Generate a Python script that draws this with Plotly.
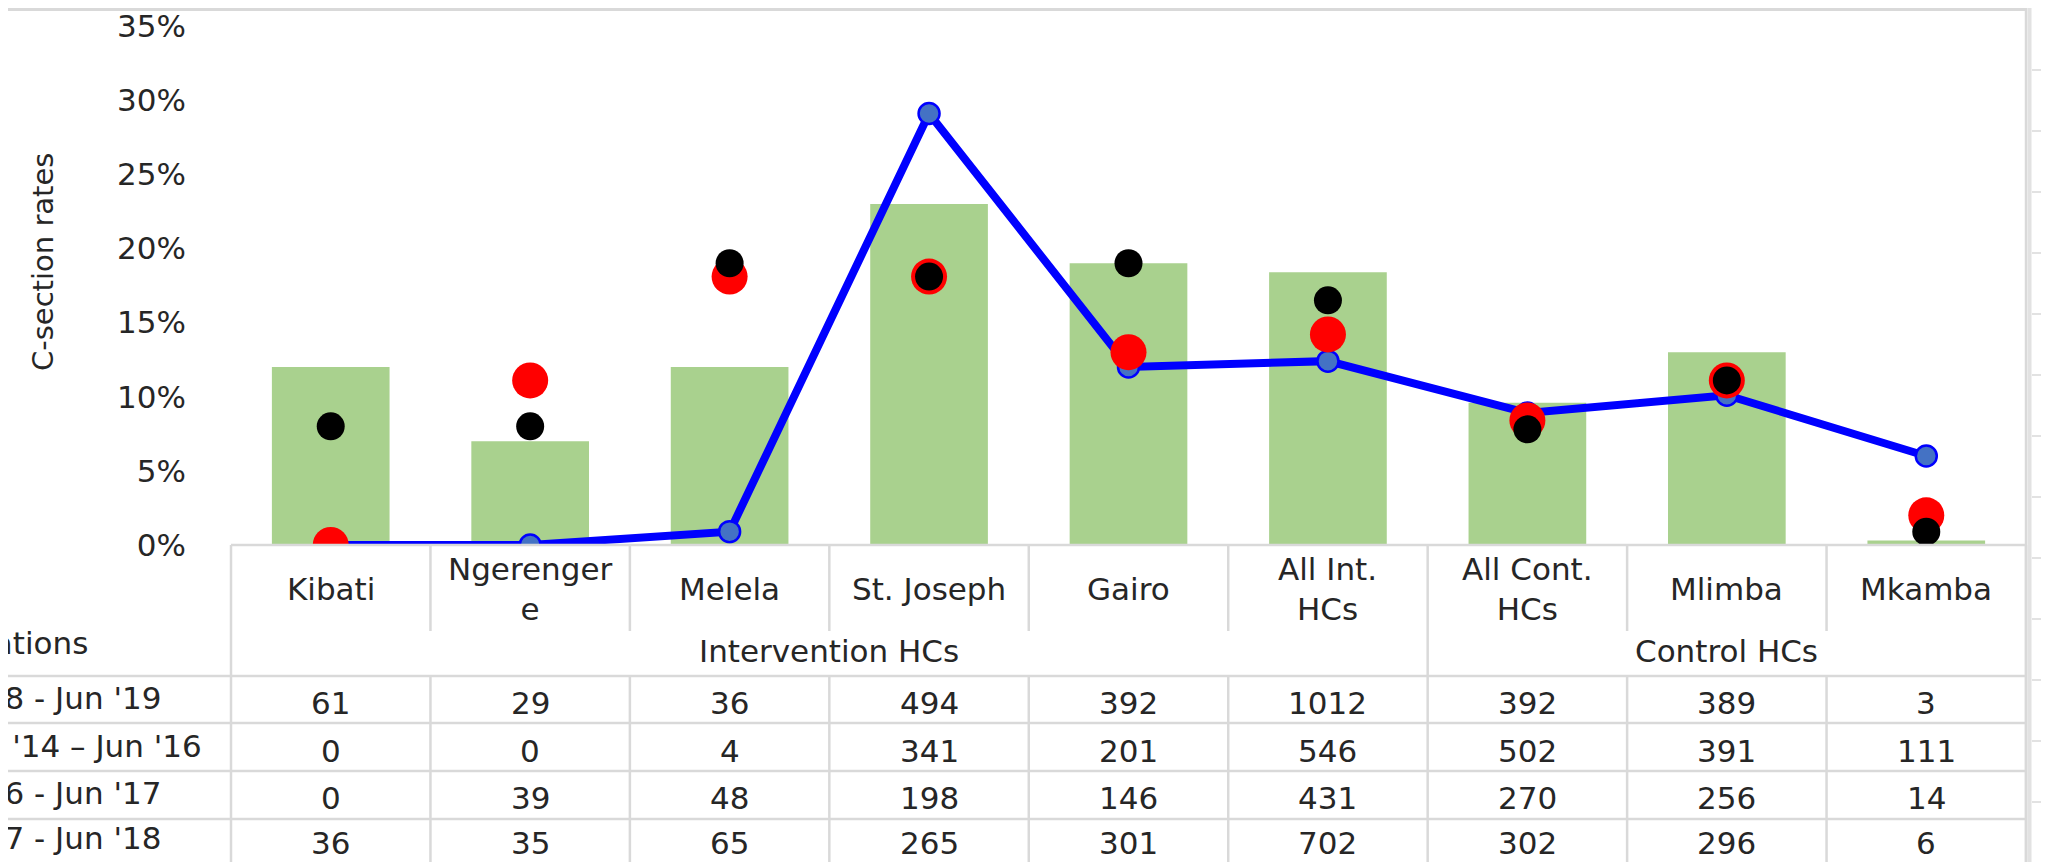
import plotly.graph_objects as go

# ---------------- data ----------------
categories = ["Kibati", "Ngerengere", "Melela", "St. Joseph", "Gairo",
              "All Int. HCs", "All Cont. HCs", "Mlimba", "Mkamba"]
category_labels = ["Kibati", "Ngerenger<br>e", "Melela", "St. Joseph", "Gairo",
                   "All Int.<br>HCs", "All Cont.<br>HCs", "Mlimba", "Mkamba"]
groups = ["Intervention HCs", "Control HCs"]
group_sizes = [6, 3]

table_header = "No. of C-section operations"
periods = ["Jul '18 - Jun '19", "Jul '14 – Jun '16", "Jul '16 - Jun '17", "Jul '17 - Jun '18"]

# C-section rates
rate_1819 = [0.120, 0.070, 0.120, 0.230, 0.190, 0.184, 0.096, 0.130, 0.003]   # bars
rate_1416 = [0.000, 0.000, 0.009, 0.291, 0.120, 0.124, 0.089, 0.101, 0.060]   # blue line
rate_1617 = [0.000, 0.111, 0.181, 0.181, 0.130, 0.142, 0.084, 0.111, 0.020]   # red dots
rate_1718 = [0.080, 0.080, 0.190, 0.181, 0.190, 0.165, 0.078, 0.111, 0.009]   # black dots

# number of operations (data table)
ops_1819 = [61, 29, 36, 494, 392, 1012, 392, 389, 3]
ops_1416 = [0, 0, 4, 341, 201, 546, 502, 391, 111]
ops_1617 = [0, 39, 48, 198, 146, 431, 270, 256, 14]
ops_1718 = [36, 35, 65, 265, 301, 702, 302, 296, 6]

y_ticks = [0, 0.05, 0.10, 0.15, 0.20, 0.25, 0.30, 0.35]

# ---------------- layout constants (page pixels) ----------------
OFF = 8                                   # default body margin of the page
PAGE_W, PAGE_H = 2049, 862
W, H = PAGE_W - OFF, PAGE_H - OFF
PL, PR, PT, PB = 231, 2026, 26, 545       # plot area in page pixels
GRID = "#D9D9D9"
TXT = "#262626"
FONT = "DejaVu Sans"
FS = 31


def px(x):
    return (x - OFF) / W


def py(y):
    return 1 - (y - OFF) / H


xi = list(range(len(categories)))

fig = go.Figure()
fig.add_trace(go.Bar(x=xi, y=rate_1819, name=periods[0], width=0.59,
                     marker=dict(color="#A9D18E", line=dict(width=0))))
fig.add_trace(go.Scatter(x=xi, y=rate_1416, name=periods[1], mode="lines+markers",
                         line=dict(color="#0000FF", width=8),
                         marker=dict(size=21, color="#4472C4",
                                     line=dict(color="#0000FF", width=2.5))))
fig.add_trace(go.Scatter(x=xi, y=rate_1617, name=periods[2], mode="markers",
                         marker=dict(size=36, color="#FF0000", line=dict(width=0))))
fig.add_trace(go.Scatter(x=xi, y=rate_1718, name=periods[3], mode="markers",
                         marker=dict(size=28, color="#000000", line=dict(width=0))))

shapes = []


def hline(y, x0, x1, w=2.5, c=GRID):
    shapes.append(dict(type="line", xref="paper", yref="paper",
                       x0=px(x0), x1=px(x1), y0=py(y), y1=py(y),
                       line=dict(color=c, width=w), layer="above"))


def vline(x, y0, y1, w=2.5, c=GRID):
    shapes.append(dict(type="line", xref="paper", yref="paper",
                       x0=px(x), x1=px(x), y0=py(y0), y1=py(y1),
                       line=dict(color=c, width=w), layer="above"))


# spreadsheet background lines
hline(OFF + 1.5, 0, PR, w=3)
vline(2029.5, 0, PAGE_H, w=4, c="#E2E2E2")
for k in range(13):
    hline(70 + 61 * k, 2032, PAGE_W, w=1.5)
vline(PR, OFF, PAGE_H, w=2.5)

# data table grid
n = len(categories)
step = (PR - PL) / n
ROW_CAT = 631
ROW_GRP = 676
row_lines = [676, 723, 771, 819]
hline(PB, PL, PR)
group_edges = [0]
for s in group_sizes:
    group_edges.append(group_edges[-1] + s)
for k in range(n + 1):
    x = PL + step * k
    if k in group_edges:
        vline(x, PB, ROW_GRP)
    else:
        vline(x, PB, ROW_CAT)
    vline(x, ROW_GRP, PAGE_H)
for y in row_lines:
    hline(y, 0, PR)

ann = []
font = dict(family=FONT, size=FS, color=TXT)

# category labels
for i, lab in enumerate(category_labels):
    ann.append(dict(x=i, xref="x", y=py(589), yref="paper", text=lab,
                    showarrow=False, font=font, xanchor="center", yanchor="middle"))
# group labels
for g, (a, b) in zip(groups, zip(group_edges[:-1], group_edges[1:])):
    ann.append(dict(x=(a + b - 1) / 2, xref="x", y=py(651), yref="paper", text=g,
                    showarrow=False, font=font, xanchor="center", yanchor="middle"))
# row header + period labels (cut off at the left edge, as in the original)
ann.append(dict(x=px(90), xref="paper", y=py(643), yref="paper", text=table_header,
                showarrow=False, font=font, xanchor="right", yanchor="middle"))
label_right = [163, 204, 163, 163]
row_y = [703, 751, 798, 843]
for p, xr, yy in zip(periods, label_right, row_y):
    ann.append(dict(x=px(xr), xref="paper", y=py(yy - 5), yref="paper", text=p,
                    showarrow=False, font=font, xanchor="right", yanchor="middle"))
# values
for vals, yy in zip([ops_1819, ops_1416, ops_1617, ops_1718], row_y):
    for i, v in enumerate(vals):
        ann.append(dict(x=i, xref="x", y=py(yy), yref="paper", text=str(v),
                        showarrow=False, font=font, xanchor="center", yanchor="middle"))
# y-axis title
ann.append(dict(x=px(43), xref="paper", y=py(262), yref="paper", text="C-section rates",
                textangle=-90, showarrow=False, font=dict(family=FONT, size=29, color=TXT),
                xanchor="center", yanchor="middle"))

fig.update_layout(
    width=W, height=H, autosize=False,
    margin=dict(l=0, r=0, t=0, b=0),
    paper_bgcolor="white", plot_bgcolor="white",
    showlegend=False, bargap=0.41,
    shapes=shapes, annotations=ann,
    font=font,
    xaxis=dict(domain=[px(PL), px(PR)], range=[-0.5, n - 0.5], showticklabels=False,
               showgrid=False, zeroline=False, showline=False, ticks="", automargin=False,
               fixedrange=True),
    yaxis=dict(domain=[py(PB), py(PT)], range=[0, 0.35], tickvals=y_ticks,
               tickformat=".0%", showgrid=False, zeroline=False, showline=False,
               ticks="", ticklabelstandoff=44, tickfont=font, automargin=False,
               ticklabeloverflow="allow", fixedrange=True),
)

fig.write_html("out.html")
